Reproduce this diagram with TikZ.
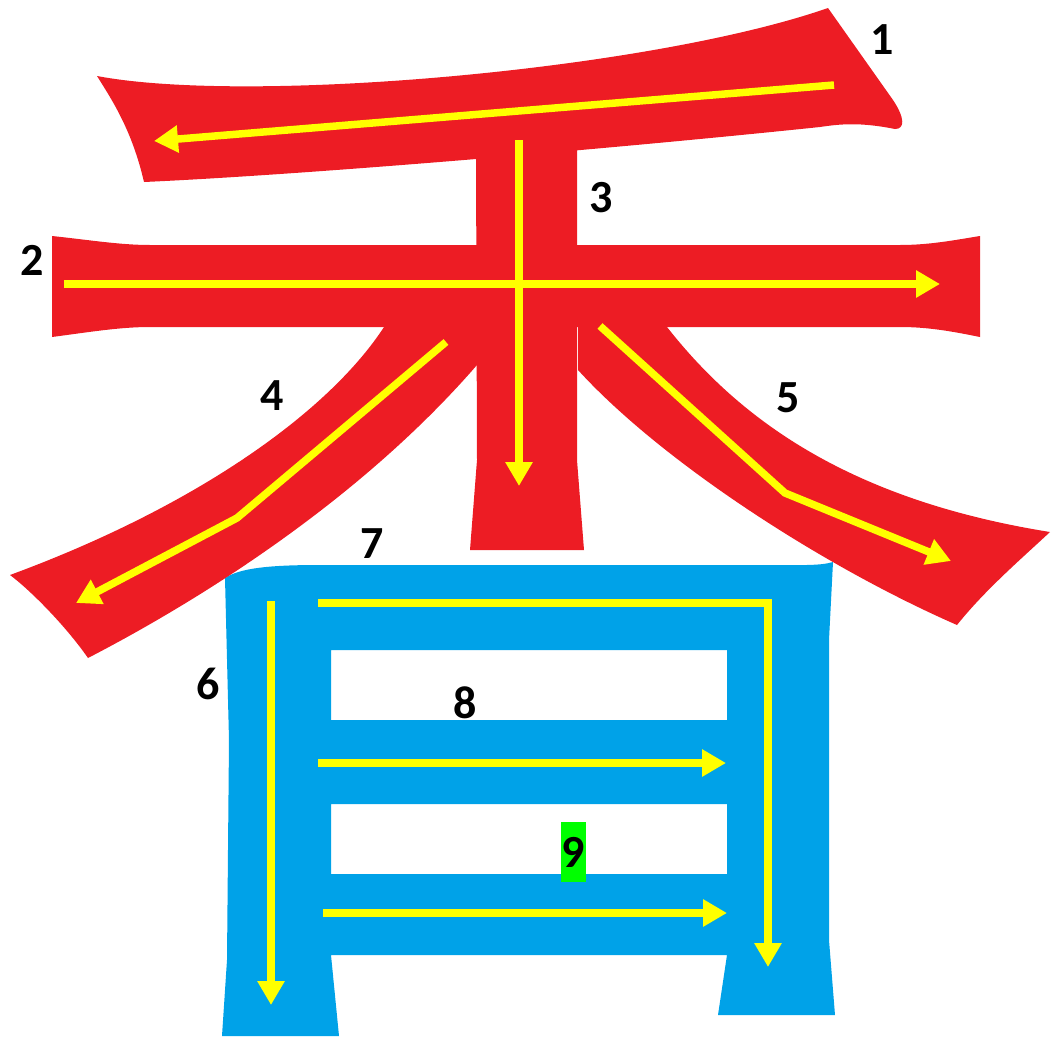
\documentclass[tikz,border=0pt]{standalone}
\usepackage{fontspec}
\setmainfont{Carlito}
\usetikzlibrary{arrows.meta}
\definecolor{strokered}{HTML}{ED1C24}
\definecolor{strokeblue}{HTML}{00A2E8}
\definecolor{arrowyellow}{HTML}{FFFF00}
\definecolor{labelgreen}{HTML}{00FF00}
\begin{document}
\begin{tikzpicture}[x=1pt,y=-1pt,
  order/.style={draw=arrowyellow,line width=7.5pt,-{Triangle[length=24pt,width=26pt]}},
  num/.style={font=\fontsize{46}{50}\selectfont\bfseries,inner sep=0pt}]
\useasboundingbox (0,0) rectangle (1053,1039);
\fill[strokeblue,even odd rule] (225,578) .. controls (240,568) and (270,565) .. (320,565) -- (760,565) .. controls (800,565) and (820,566) .. (833,562) -- (829,640) -- (829,940) -- (835,1015) -- (718,1015) -- (727,955) -- (331,955) -- (339,1036) -- (222,1036) -- (227,960) -- (229,740) -- cycle
  (331,650) rectangle (727,720) (331,804) rectangle (727,874);
\fill[strokered] (97,76) .. controls (250,105) and (650,70) .. (828,8) -- (893,100) .. controls (905,118) and (905,129) .. (895,129) .. controls (860,122) and (840,124) .. (820,127) .. controls (600,150) and (300,175) .. (144,182) .. controls (132,130) and (112,100) .. (97,76) -- cycle;
\fill[strokered] (52,236) .. controls (90,240) and (120,245) .. (150,245) -- (900,245) .. controls (930,245) and (955,240) .. (980,236) -- (980,337) .. controls (955,332) and (930,327) .. (900,327) -- (150,327) .. controls (120,327) and (90,332) .. (52,337) -- cycle;
\fill[strokered] (476,150) -- (577,150) -- (577,460) -- (584,550) -- (470,550) -- (477,460) -- cycle;
\fill[strokered] (400,320) -- (384,327) .. controls (330,410) and (200,505) .. (10,575) .. controls (30,590) and (65,625) .. (88,658) .. controls (200,600) and (360,500) .. (477,365) -- (477,320) -- cycle;
\fill[strokered] (660,320) -- (667,327) .. controls (740,420) and (850,500) .. (1050,532) .. controls (1020,560) and (985,590) .. (957,625) .. controls (820,565) and (660,460) .. (578,370) -- (578,320) -- cycle;
\draw[order] (834,85) -- (154,141);
\draw[order] (64,284) -- (940,284);
\draw[order] (519,140) -- (519,486);
\draw[order] (446,342) -- (237,518) -- (76,603);
\draw[order] (600,326) -- (785,493) -- (951,561);
\draw[order] (271,601) -- (271,1005);
\draw[order] (318,603) -- (768,603) -- (768,967);
\draw[order] (318,763) -- (726,763);
\draw[order] (323,913) -- (727,913);
\node[num] (n1) at (882,40) {1};
\node[num] (n2) at (32,260) {2};
\node[num] (n3) at (601,198) {3};
\node[num] (n4) at (272,396) {4};
\node[num] (n5) at (788,398) {5};
\node[num] (n6) at (208,684) {6};
\node[num] (n7) at (372,544) {7};
\node[num] (n8) at (465,703) {8};
\node[num,fill=labelgreen,minimum width=25pt,minimum height=60pt] (n9) at (573,852) {9};
\end{tikzpicture}
\end{document}
